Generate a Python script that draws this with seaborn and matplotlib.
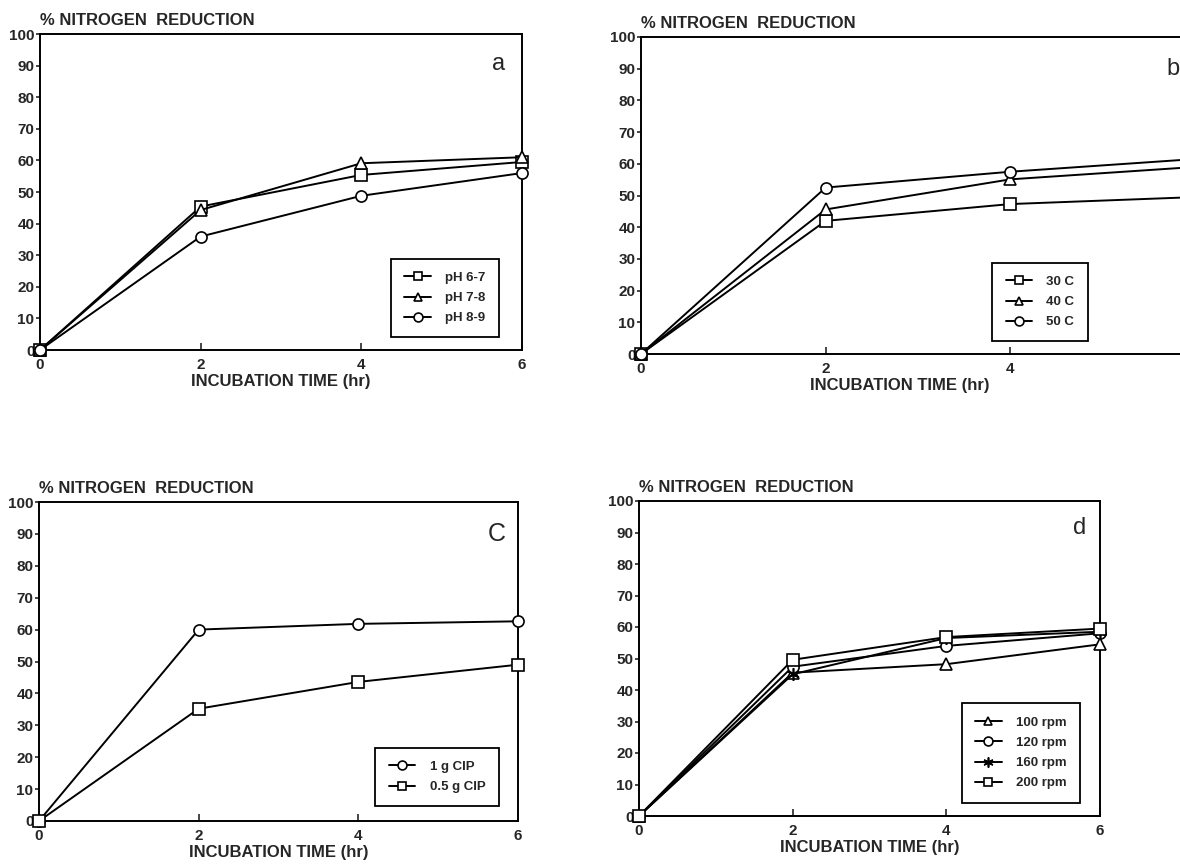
import matplotlib
matplotlib.use("Agg")
import matplotlib.pyplot as plt
import seaborn as sns
import pandas as pd

sns.set_theme(style="white")
plt.rcParams['font.family'] = ['Liberation Sans', 'DejaVu Sans']

# ---------------- data ----------------
time_hr = [0, 2, 4, 6]

# panel a: pH
ph_labels = ["pH 6-7", "pH 7-8", "pH 8-9"]
ph_6_7 = [0, 45.4, 55.4, 59.5]
ph_7_8 = [0, 44.3, 59.1, 61.0]
ph_8_9 = [0, 35.9, 48.8, 56.0]

# panel b: temperature
temp_labels = ["30 C", "40 C", "50 C"]
temp_30 = [0, 42.0, 47.3, 49.5]
temp_40 = [0, 45.6, 55.1, 59.0]
temp_50 = [0, 52.5, 57.5, 61.5]

# panel c: CIP amount
cip_labels = ["1 g CIP", "0.5 g CIP"]
cip_1g = [0, 60.0, 61.8, 62.6]
cip_05g = [0, 35.2, 43.6, 49.0]

# panel d: shaking speed
rpm_labels = ["100 rpm", "120 rpm", "160 rpm", "200 rpm"]
rpm_100 = [0, 45.5, 48.2, 54.5]
rpm_120 = [0, 47.4, 54.0, 58.0]
rpm_160 = [0, 45.0, 56.5, 58.5]
rpm_200 = [0, 49.6, 56.8, 59.5]

y_ticks = [0, 10, 20, 30, 40, 50, 60, 70, 80, 90, 100]
x_ticks = [0, 2, 4, 6]
y_title = "% NITROGEN  REDUCTION"
x_title = "INCUBATION TIME (hr)"

W, H = 1180, 864
fig = plt.figure(figsize=(W / 100, H / 100), dpi=100)
fig.patch.set_facecolor("white")


def px_axes(left, right, top, bottom):
    return fig.add_axes([left / W, 1 - bottom / H, (right - left) / W, (bottom - top) / H])


ASTER = (6, 2, 0)


def draw_panel(ax, series, labels, markers, letter, letter_style, legend_center, xlab_x,
               show_last_xtick=True):
    for vals, lab, mk in zip(series, labels, markers):
        df = pd.DataFrame({"t": time_hr, "v": vals})
        filled = mk == ASTER
        sns.lineplot(data=df, x="t", y="v", ax=ax, color="black", linewidth=1.4,
                     marker=mk, markersize=9 if filled else 8,
                     markerfacecolor="black" if filled else "white",
                     markeredgecolor="black", markeredgewidth=1.2,
                     label=lab, clip_on=False, zorder=3)
    ax.set_xlim(0, 6)
    ax.set_ylim(0, 100)
    ax.set_xticks(x_ticks)
    ax.set_yticks(y_ticks)
    xl = [str(t) for t in x_ticks]
    if not show_last_xtick:
        xl[-1] = ""
    ax.set_xticklabels(xl, fontsize=11, fontweight="bold")
    ax.set_yticklabels([str(t) for t in y_ticks], fontsize=11, fontweight="bold")
    ax.tick_params(axis="x", direction="in", length=5, width=1.2, pad=6, bottom=True)
    ax.tick_params(axis="y", direction="out", length=3, width=1.2, pad=1, left=True)
    for s in ax.spines.values():
        s.set_color("black")
        s.set_linewidth(1.4)
    ax.set_xlabel("")
    ax.set_ylabel("")
    ax.text(0.0, 1.018, y_title, transform=ax.transAxes, ha="left", va="bottom",
            fontsize=12, fontweight="bold")
    ax.text(xlab_x, -0.075, x_title, transform=ax.get_xaxis_transform(), ha="center",
            va="top", fontsize=12, fontweight="bold")
    ax.text(letter_style[0], letter_style[1], letter, transform=ax.transAxes,
            ha="center", va="center", fontsize=letter_style[2])
    cx, cy = legend_center
    leg = ax.legend(loc="center", bbox_to_anchor=(cx / W, 1 - cy / H),
                    bbox_transform=fig.transFigure, frameon=True, fancybox=False,
                    edgecolor="black", framealpha=1, handlelength=2.0,
                    handletextpad=1.1, borderpad=1.0, labelspacing=0.6,
                    prop={"weight": "bold", "size": 9.5}, markerscale=0.8)
    leg.get_frame().set_linewidth(1.3)
    ax.grid(False)


ax_a = px_axes(40, 522, 34, 350)
draw_panel(ax_a, [ph_6_7, ph_7_8, ph_8_9], ph_labels, ["s", "^", "o"], "a",
           (0.952, 0.905, 17), (445, 298), 3)

ax_b = px_axes(641, 1195, 37, 354)
draw_panel(ax_b, [temp_30, temp_40, temp_50], temp_labels, ["s", "^", "o"], "b",
           (0.96, 0.9, 17), (1040, 302), 2.8, show_last_xtick=False)

ax_c = px_axes(39, 518, 502, 821)
draw_panel(ax_c, [cip_1g, cip_05g], cip_labels, ["o", "s"], "C",
           (0.955, 0.9, 18), (437, 777), 3)

ax_d = px_axes(639, 1100, 501, 816)
draw_panel(ax_d, [rpm_100, rpm_120, rpm_160, rpm_200], rpm_labels, ["^", "o", ASTER, "s"], "d",
           (0.955, 0.915, 17), (1021, 753), 3)

fig.savefig("out.png", dpi=100, facecolor="white")
